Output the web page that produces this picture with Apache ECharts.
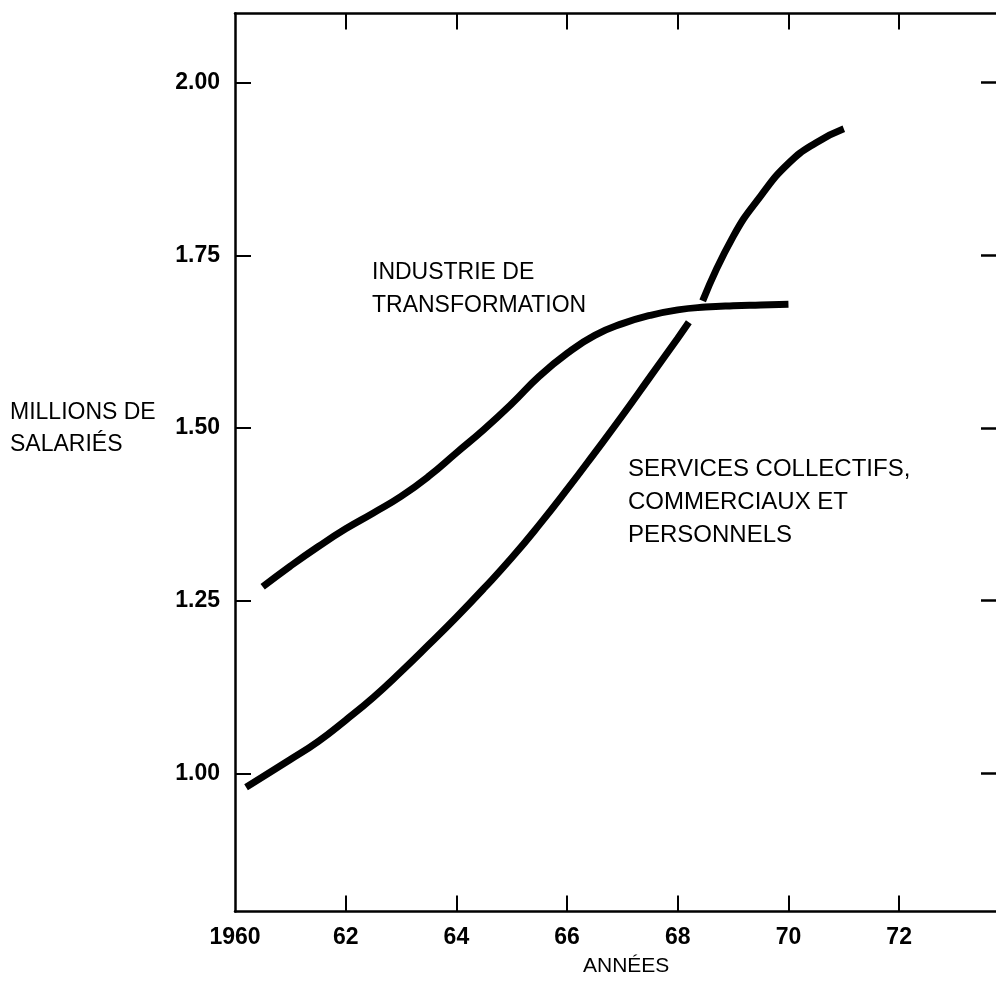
<!DOCTYPE html>
<html>
<head>
<meta charset="utf-8">
<script src="https://cdn.jsdelivr.net/npm/echarts@6/dist/echarts.min.js"></script>
<style>
html,body{margin:0;padding:0;background:#fff;}
#c{width:996px;height:981px;}
</style>
</head>
<body>
<div id="c"></div>
<script>
// Years on x, millions of employees on y
const industrieYears = [1960.5,1961,1961.5,1962,1962.5,1963,1963.5,1964,1964.5,1965,1965.5,1966,1966.5,1967,1967.5,1968,1968.5,1969,1969.5,1970];
const industrieValues = [1.27,1.30,1.328,1.354,1.377,1.401,1.430,1.464,1.498,1.535,1.575,1.608,1.634,1.651,1.663,1.671,1.675,1.677,1.678,1.679];

const servicesYearsA = [1960.2,1961,1961.5,1962,1962.5,1963,1963.5,1964,1964.5,1965,1965.5,1966,1966.5,1967,1967.5,1968,1968.2];
const servicesValuesA = [0.98,1.02,1.046,1.077,1.110,1.147,1.186,1.226,1.268,1.312,1.36,1.411,1.464,1.518,1.574,1.630,1.653];
const servicesYearsB = [1968.45,1969,1969.5,1970,1970.5,1971];
const servicesValuesB = [1.684,1.777,1.836,1.883,1.913,1.933];

const xTickValues = [1962,1964,1966,1968,1970,1972];
const xLabelValues = [1960,1962,1964,1966,1968,1970,1972];
const yTickValues = [1.00,1.25,1.50,1.75,2.00];

const FONT = '"Liberation Sans", Arial, sans-serif';
const pairs = (xs, ys) => xs.map((x, i) => [x, ys[i]]);

const lineStyle = {color:'#000', width:7, cap:'butt'};

const chart = echarts.init(document.getElementById('c'), null, {renderer:'canvas'});
chart.setOption({
  animation:false,
  backgroundColor:'#fff',
  grid:{left:235, right:-1, top:13.5, bottom:69.5, containLabel:false},
  xAxis:[{
    type:'value', min:1960, max:1973.75, position:'bottom',
    axisLine:{show:true, lineStyle:{color:'#000', width:2.5}},
    axisTick:{show:true, inside:true, length:16, customValues:xTickValues, lineStyle:{color:'#000', width:2}},
    axisLabel:{show:true, customValues:xLabelValues, margin:15, color:'#000', fontFamily:FONT, fontSize:23, fontWeight:'bold',
      formatter:v => v === 1960 ? '1960' : String(v - 1900)},
    splitLine:{show:false}
  },{
    type:'value', min:1960, max:1973.75, position:'top',
    axisLine:{show:true, onZero:false, lineStyle:{color:'#000', width:2.5}},
    axisTick:{show:true, inside:true, length:16, customValues:xTickValues, lineStyle:{color:'#000', width:2}},
    axisLabel:{show:false},
    splitLine:{show:false}
  }],
  yAxis:[{
    type:'value', min:0.8, max:2.1, position:'left',
    axisLine:{show:true, onZero:false, lineStyle:{color:'#000', width:2.5}},
    axisTick:{show:true, inside:true, length:16, customValues:yTickValues, lineStyle:{color:'#000', width:2}},
    axisLabel:{show:true, customValues:yTickValues, margin:15, color:'#000', fontFamily:FONT, fontSize:23, fontWeight:'bold',
      formatter:v => v.toFixed(2)},
    splitLine:{show:false}
  },{
    type:'value', min:0.8, max:2.1, position:'right',
    axisLine:{show:false},
    axisTick:{show:true, inside:true, length:15, customValues:yTickValues, lineStyle:{color:'#000', width:2.5}},
    axisLabel:{show:false},
    splitLine:{show:false}
  }],
  series:[{
    type:'line', name:'Industrie de transformation', xAxisIndex:0, yAxisIndex:0,
    data:pairs(industrieYears, industrieValues), smooth:0.5, symbol:'none', lineStyle:lineStyle
  },{
    type:'line', name:'Services A', xAxisIndex:0, yAxisIndex:0,
    data:pairs(servicesYearsA, servicesValuesA), smooth:0.5, symbol:'none', lineStyle:lineStyle
  },{
    type:'line', name:'Services B', xAxisIndex:0, yAxisIndex:0,
    data:pairs(servicesYearsB, servicesValuesB), smooth:0.5, symbol:'none', lineStyle:lineStyle
  }],
  graphic:[
    {type:'text', left:10, top:401, style:{text:'MILLIONS DE', font:'23px ' + FONT, fill:'#000'}},
    {type:'text', left:10, top:433, style:{text:'SALARIÉS', font:'23px ' + FONT, fill:'#000'}},
    {type:'text', left:372, top:261, style:{text:'INDUSTRIE DE', font:'23px ' + FONT, fill:'#000'}},
    {type:'text', left:372, top:294, style:{text:'TRANSFORMATION', font:'23px ' + FONT, fill:'#000'}},
    {type:'text', left:628, top:457, style:{text:'SERVICES COLLECTIFS,', font:'24px ' + FONT, fill:'#000'}},
    {type:'text', left:628, top:490, style:{text:'COMMERCIAUX ET', font:'24px ' + FONT, fill:'#000'}},
    {type:'text', left:628, top:523, style:{text:'PERSONNELS', font:'24px ' + FONT, fill:'#000'}},
    {type:'text', left:583, top:956, style:{text:'ANNÉES', font:'21px ' + FONT, fill:'#000'}}
  ]
});
</script>
</body>
</html>
